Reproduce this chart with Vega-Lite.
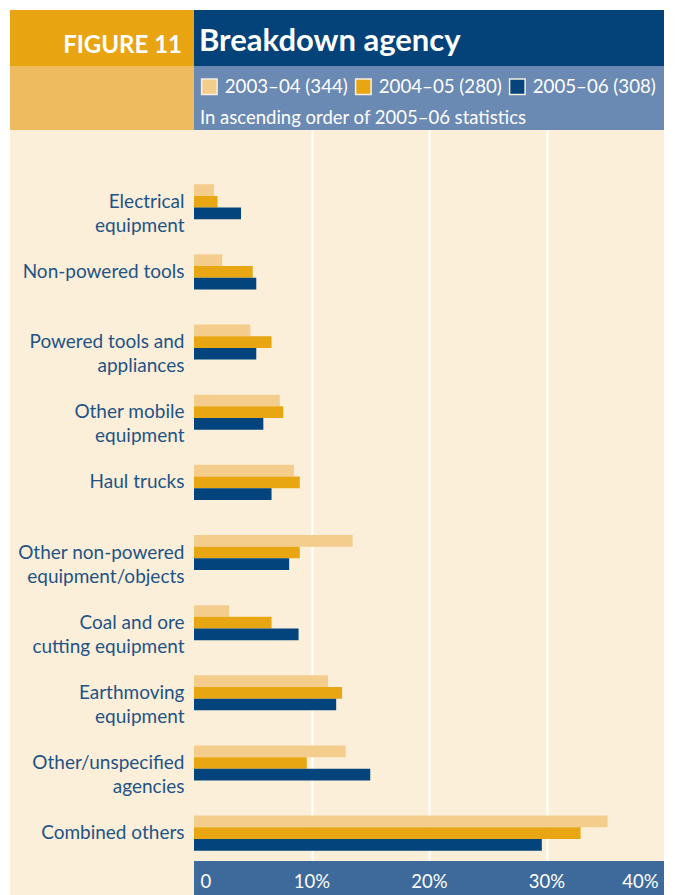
{
  "$schema": "https://vega.github.io/schema/vega-lite/v6.json",
  "background": "white",
  "padding": {"left": 10, "top": 10, "right": 0, "bottom": 0},
  "spacing": 0,
  "config": {"view": {"stroke": null}, "concat": {"spacing": 0}, "font": "Lato"},
  "datasets": {
    "blank": [{}],
    "bars": [
      {"agency": "Electrical\nequipment", "year": "2003–04 (344)", "pct": 1.7},
      {"agency": "Electrical\nequipment", "year": "2004–05 (280)", "pct": 2.0},
      {"agency": "Electrical\nequipment", "year": "2005–06 (308)", "pct": 4.0},
      {"agency": "Non-powered tools", "year": "2003–04 (344)", "pct": 2.4},
      {"agency": "Non-powered tools", "year": "2004–05 (280)", "pct": 5.0},
      {"agency": "Non-powered tools", "year": "2005–06 (308)", "pct": 5.3},
      {"agency": "Powered tools and\nappliances", "year": "2003–04 (344)", "pct": 4.8},
      {"agency": "Powered tools and\nappliances", "year": "2004–05 (280)", "pct": 6.6},
      {"agency": "Powered tools and\nappliances", "year": "2005–06 (308)", "pct": 5.3},
      {"agency": "Other mobile\nequipment", "year": "2003–04 (344)", "pct": 7.3},
      {"agency": "Other mobile\nequipment", "year": "2004–05 (280)", "pct": 7.6},
      {"agency": "Other mobile\nequipment", "year": "2005–06 (308)", "pct": 5.9},
      {"agency": "Haul trucks", "year": "2003–04 (344)", "pct": 8.5},
      {"agency": "Haul trucks", "year": "2004–05 (280)", "pct": 9.0},
      {"agency": "Haul trucks", "year": "2005–06 (308)", "pct": 6.6},
      {"agency": "Other non-powered\nequipment/objects", "year": "2003–04 (344)", "pct": 13.5},
      {"agency": "Other non-powered\nequipment/objects", "year": "2004–05 (280)", "pct": 9.0},
      {"agency": "Other non-powered\nequipment/objects", "year": "2005–06 (308)", "pct": 8.1},
      {"agency": "Coal and ore\ncutting equipment", "year": "2003–04 (344)", "pct": 3.0},
      {"agency": "Coal and ore\ncutting equipment", "year": "2004–05 (280)", "pct": 6.6},
      {"agency": "Coal and ore\ncutting equipment", "year": "2005–06 (308)", "pct": 8.9},
      {"agency": "Earthmoving\nequipment", "year": "2003–04 (344)", "pct": 11.4},
      {"agency": "Earthmoving\nequipment", "year": "2004–05 (280)", "pct": 12.6},
      {"agency": "Earthmoving\nequipment", "year": "2005–06 (308)", "pct": 12.1},
      {"agency": "Other/unspecified\nagencies", "year": "2003–04 (344)", "pct": 12.9},
      {"agency": "Other/unspecified\nagencies", "year": "2004–05 (280)", "pct": 9.6},
      {"agency": "Other/unspecified\nagencies", "year": "2005–06 (308)", "pct": 15.0},
      {"agency": "Combined others", "year": "2003–04 (344)", "pct": 35.2},
      {"agency": "Combined others", "year": "2004–05 (280)", "pct": 32.9},
      {"agency": "Combined others", "year": "2005–06 (308)", "pct": 29.6}
    ]
  },
  "vconcat": [
    {
      "bounds": "flush",
      "spacing": 0,
      "hconcat": [
        {
          "width": 184, "height": 56,
          "view": {"fill": "#e8a511", "stroke": null},
          "data": {"name": "blank"},
          "mark": {"type": "rect", "color": "#e8a511"},
          "encoding": {},
          "title": {"text": "FIGURE 11", "anchor": "end", "frame": "group", "orient": "top", "offset": -67, "baseline": "alphabetic", "dx": -12, "color": "white", "fontSize": 24, "fontWeight": "bold", "font": "Lato"}
        },
        {
          "width": 470, "height": 56,
          "view": {"fill": "#03437a", "stroke": null},
          "data": {"name": "blank"},
          "mark": {"type": "rect", "color": "#03437a"},
          "encoding": {},
          "title": {"text": "Breakdown agency", "anchor": "start", "frame": "group", "orient": "top", "offset": -72, "baseline": "alphabetic", "dx": 5, "color": "white", "fontSize": 31, "fontWeight": "bold", "font": "Lato"}
        }
      ]
    },
    {
      "bounds": "flush",
      "spacing": 0,
      "hconcat": [
        {
          "width": 184, "height": 64,
          "view": {"fill": "#eebc5e", "stroke": null},
          "data": {"name": "blank"},
          "mark": {"type": "rect", "color": "#eebc5e"},
          "encoding": {}
        },
        {
          "width": 470, "height": 64,
          "view": {"fill": "#6a89b3", "stroke": null},
          "data": {"name": "blank"},
          "mark": {"type": "rect", "color": "#6a89b3"},
          "encoding": {}
        }
      ]
    },
    {
      "bounds": "flush",
      "spacing": 0,
      "hconcat": [
        {
          "width": 184, "height": 731,
          "view": {"fill": "#fbefd9", "stroke": null},
          "data": {"name": "bars"},
          "mark": {"type": "tick", "opacity": 0},
          "encoding": {
            "y": {
              "field": "agency", "type": "nominal", "sort": null,
              "scale": {"paddingInner": 0.5, "paddingOuter": 0.46, "align": 0.84},
              "axis": {"orient": "left", "offset": -174, "domain": false, "ticks": false, "labelPadding": 0, "title": null,
                "labelExpr": "split(datum.label, '\\n')", "labelFontSize": 19, "labelFont": "Lato", "labelColor": "#1f5386", "labelLineHeight": 24, "labelLimit": 300}
            }
          }
        },
        {
          "width": 470, "height": 731,
          "view": {"fill": "#fbefd9", "stroke": null},
          "data": {"name": "bars"},
          "mark": {"type": "bar"},
          "encoding": {
            "y": {
              "field": "agency", "type": "nominal", "sort": null,
              "scale": {"paddingInner": 0.5, "paddingOuter": 0.46, "align": 0.84},
              "axis": null
            },
            "yOffset": {"field": "year", "type": "nominal", "sort": null, "scale": {"paddingInner": 0, "paddingOuter": 0}},
            "x": {
              "field": "pct", "type": "quantitative",
              "scale": {"domain": [0, 40], "nice": false},
              "axis": {"grid": true, "values": [10, 20, 30], "gridColor": "white", "gridWidth": 2, "gridOpacity": 1, "labels": false, "ticks": false, "domain": false, "title": null}
            },
            "color": {
              "field": "year", "type": "nominal", "sort": null,
              "scale": {"domain": ["2003–04 (344)", "2004–05 (280)", "2005–06 (308)"], "range": ["#f4cd8d", "#e7a612", "#02447b"]},
              "legend": {
                "orient": "none", "legendX": 190, "legendY": 67,
                "direction": "horizontal",
                "title": "In ascending order of 2005–06 statistics",
                "titleOrient": "bottom", "titleAnchor": "start",
                "titleFontWeight": "normal", "titleFontSize": 18.5, "titleColor": "white", "titleFont": "Lato",
                "titlePadding": 11, "titleLimit": 460,
                "symbolType": "square", "symbolSize": 240, "symbolStrokeColor": "#f7efe0", "symbolStrokeWidth": 1.5, "symbolOpacity": 1,
                "labelFontSize": 18.7, "labelColor": "white", "labelFont": "Lato", "labelLimit": 200,
                "labelOffset": 6, "columnPadding": 4
              }
            }
          }
        }
      ]
    },
    {
      "bounds": "flush",
      "spacing": 0,
      "hconcat": [
        {
          "width": 184, "height": 34,
          "view": {"fill": "#fbefd9", "stroke": null},
          "data": {"name": "blank"},
          "mark": {"type": "rect", "color": "#fbefd9"},
          "encoding": {}
        },
        {
          "width": 470, "height": 34,
          "view": {"fill": "#3e6a9b", "stroke": null},
          "data": {"name": "bars"},
          "mark": {"type": "tick", "opacity": 0},
          "encoding": {
            "x": {
              "field": "pct", "type": "quantitative",
              "scale": {"domain": [0, 40], "nice": false},
              "axis": {"orient": "bottom", "offset": -34, "values": [0, 10, 20, 30, 40], "grid": false, "ticks": false, "domain": false, "title": null,
                "labelExpr": "datum.value == 0 ? '0' : datum.value + '%'", "labelFlush": true, "labelFlushOffset": -6,
                "labelBaseline": "alphabetic", "labelPadding": 26, "labelFontSize": 18.5, "labelFont": "Lato", "labelColor": "white"}
            }
          }
        }
      ]
    }
  ]
}
